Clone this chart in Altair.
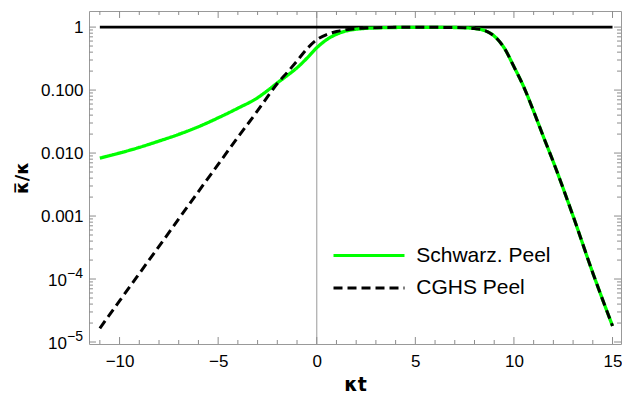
import altair as alt
import pandas as pd

# Schwarzschild peel (green, solid)
t_s = [-11, -10, -9, -8, -7, -6, -5, -4, -3, -2.5, -2, -1.5, -1, -0.5, 0, 0.5, 1, 1.5, 2, 2.5, 3, 4, 5, 6,
       7, 7.5, 8, 8.5, 9, 9.5, 10, 10.5, 11, 11.5, 12, 13, 14, 15]
k_s = [0.0083, 0.0100, 0.0123, 0.0155, 0.0198, 0.0262, 0.0362, 0.0515, 0.0755, 0.098, 0.13, 0.17, 0.226, 0.32,
       0.47, 0.63, 0.77, 0.87, 0.925, 0.955, 0.97, 0.985, 0.99, 0.99,
       0.985, 0.975, 0.95, 0.885, 0.72, 0.47, 0.235, 0.112, 0.046, 0.018, 0.0072, 0.001, 1.25e-4, 1.8e-5]

# CGHS peel (black, dashed)
t_c = [-11, -10, -9, -8, -7, -6, -5, -4, -3, -2.5, -2, -1.5, -1, -0.5, 0, 0.5, 1, 1.5, 2, 2.5, 3, 4, 5, 6,
       7, 7.5, 8, 8.5, 9, 9.5, 10, 10.5, 11, 11.5, 12, 13, 14, 15]
k_c = [1.65e-5, 4.5e-5, 1.22e-4, 3.3e-4, 9e-4, 2.45e-3, 6.6e-3, 0.0178, 0.047, 0.078, 0.127, 0.19, 0.29, 0.45,
       0.63, 0.76, 0.85, 0.91, 0.95, 0.97, 0.98, 0.99, 0.99, 0.99,
       0.985, 0.975, 0.95, 0.885, 0.72, 0.47, 0.235, 0.112, 0.046, 0.018, 0.0072, 0.001, 1.25e-4, 1.8e-5]

# reference level
t_ref = [-11, 15]
k_ref = [1, 1]

series = ["Schwarz. Peel", "CGHS Peel"]
x_ticks = [-10, -5, 0, 5, 10, 15]
y_ticks = [1, 0.1, 0.01, 0.001, 1e-4, 1e-5]
pow_vals = [1e-4, 1e-5]
pow_exp = ["−4", "−5"]

x_dom = [-11.55, 15.43]
y_dom = [9.3e-6, 1.8]

x_minor = [v for v in range(-11, 16) if v not in x_ticks]
y_minor = [k * 10.0 ** e for e in range(-6, 1) for k in range(2, 10) if y_dom[0] <= k * 10.0 ** e <= y_dom[1]]

df_s = pd.DataFrame({"t": t_s, "k": k_s, "series": series[0]})
df_c = pd.DataFrame({"t": t_c, "k": k_c, "series": series[1]})
df_ref = pd.DataFrame({"t": t_ref, "k": k_ref})
df_zero = pd.DataFrame({"t": [0]})
df_xmaj = pd.DataFrame({"v": x_ticks})
df_xmin = pd.DataFrame({"v": x_minor})
df_ymaj = pd.DataFrame({"v": y_ticks})
df_ymin = pd.DataFrame({"v": y_minor})
df_pow = pd.DataFrame({"v": pow_vals, "e": pow_exp})

font = "Liberation Sans"
frame = "#999999"
tick_col = "#8c8c8c"
MAJ, MIN = 7, 4          # tick lengths in pixels
PX_X, PX_DEC = 19.8, 63.2  # approx pixels per x unit / per y decade

xscale = alt.Scale(domain=x_dom, nice=False, zero=False)
yscale = alt.Scale(type="log", domain=y_dom, nice=False)

xaxis = alt.Axis(values=x_ticks, title="κt", grid=False, labelFontSize=17, titleFontSize=19,
                 titleFontWeight="bold", labelColor="black", titleColor="black", domain=False,
                 ticks=False, labelPadding=9, titlePadding=6, labelFont=font, titleFont="DejaVu Sans")
label_expr = ("datum.value >= 0.99 ? '1' : datum.value >= 0.099 ? '0.100' : datum.value >= 0.0099 ? '0.010' : "
              "datum.value >= 0.00099 ? '0.001' : ''")
yaxis = alt.Axis(values=y_ticks, title="κ̅/κ", grid=False, labelFontSize=17, titleFontSize=18,
                 titleFontWeight="bold", labelColor="black", titleColor="black", domain=False,
                 ticks=False, labelExpr=label_expr, labelPadding=6, titlePadding=9,
                 labelFont=font, titleFont="DejaVu Sans")

color = alt.Color("series:N", scale=alt.Scale(domain=series, range=["#00ff00", "black"]),
                  legend=alt.Legend(title=None, orient="none", legendX=260.5, legendY=225, padding=0,
                                    symbolType="M-2,0H2", symbolSize=1260, symbolStrokeWidth=3,
                                    labelFontSize=21, labelFont=font, labelColor="black",
                                    rowPadding=2.5, labelOffset=27.75))
dash = alt.StrokeDash("series:N", scale=alt.Scale(domain=series, range=[[1, 0], [9, 5]]), legend=None)

X = alt.X("t:Q", scale=xscale, axis=xaxis)
Y = alt.Y("k:Q", scale=yscale, axis=yaxis)

zero_line = alt.Chart(df_zero).mark_rule(color="#aaaaaa", strokeWidth=1.2).encode(x=X)

ref_line = alt.Chart(df_ref).mark_line(color="black", strokeWidth=2.6).encode(x=X, y=Y)

green = alt.Chart(df_s).mark_line(strokeWidth=3.3, interpolate="monotone").encode(
    x=X, y=Y, color=color, strokeDash=dash)

black = alt.Chart(df_c).mark_line(strokeWidth=3, interpolate="monotone").encode(
    x=X, y=Y, color=color, strokeDash=dash)


def yticks(df, length, side):
    d = length / PX_X
    if side == "left":
        a, b = x_dom[0], x_dom[0] + d
    else:
        a, b = x_dom[1], x_dom[1] - d
    return alt.Chart(df).mark_rule(color=tick_col, strokeWidth=1).encode(
        y=alt.Y("v:Q", scale=yscale, axis=yaxis), x=alt.XDatum(a), x2=alt.X2Datum(b))


def xticks(df, length, side):
    f = 10 ** (length / PX_DEC)
    if side == "top":
        a, b = y_dom[1], y_dom[1] / f
    else:
        a, b = y_dom[0], y_dom[0] * f
    return alt.Chart(df).mark_rule(color=tick_col, strokeWidth=1).encode(
        x=alt.X("v:Q", scale=xscale, axis=xaxis), y=alt.YDatum(a), y2=alt.Y2Datum(b))


tick_layers = [
    yticks(df_ymaj, MAJ, "left"), yticks(df_ymin, MIN, "left"),
    yticks(df_ymaj, MAJ, "right"), yticks(df_ymin, MIN, "right"),
    xticks(df_xmaj, MAJ, "bottom"), xticks(df_xmin, MIN, "bottom"),
    xticks(df_xmaj, MAJ, "top"), xticks(df_xmin, MIN, "top"),
]

pow_base = alt.Chart(df_pow).mark_text(text="10", align="right", baseline="middle", fontSize=17,
                                       font=font, color="black", dy=2).encode(
    y=alt.Y("v:Q", scale=yscale, axis=yaxis), x=alt.value(-22))
pow_exp_t = alt.Chart(df_pow).mark_text(align="right", baseline="middle", fontSize=14,
                                        font=font, color="black", dy=-5).encode(
    y=alt.Y("v:Q", scale=yscale, axis=yaxis), x=alt.value(-6), text="e:N")

chart = alt.layer(zero_line, *tick_layers, ref_line, green, black, pow_base, pow_exp_t).properties(
    width=614, height=386, padding={"left": 5, "top": 2, "right": 0, "bottom": 0},
    autosize=alt.AutoSizeParams(type="fit", contains="padding")
).configure_view(stroke=frame, strokeWidth=1)

chart.save("out.html", embed_options={"renderer": "svg", "actions": False})
